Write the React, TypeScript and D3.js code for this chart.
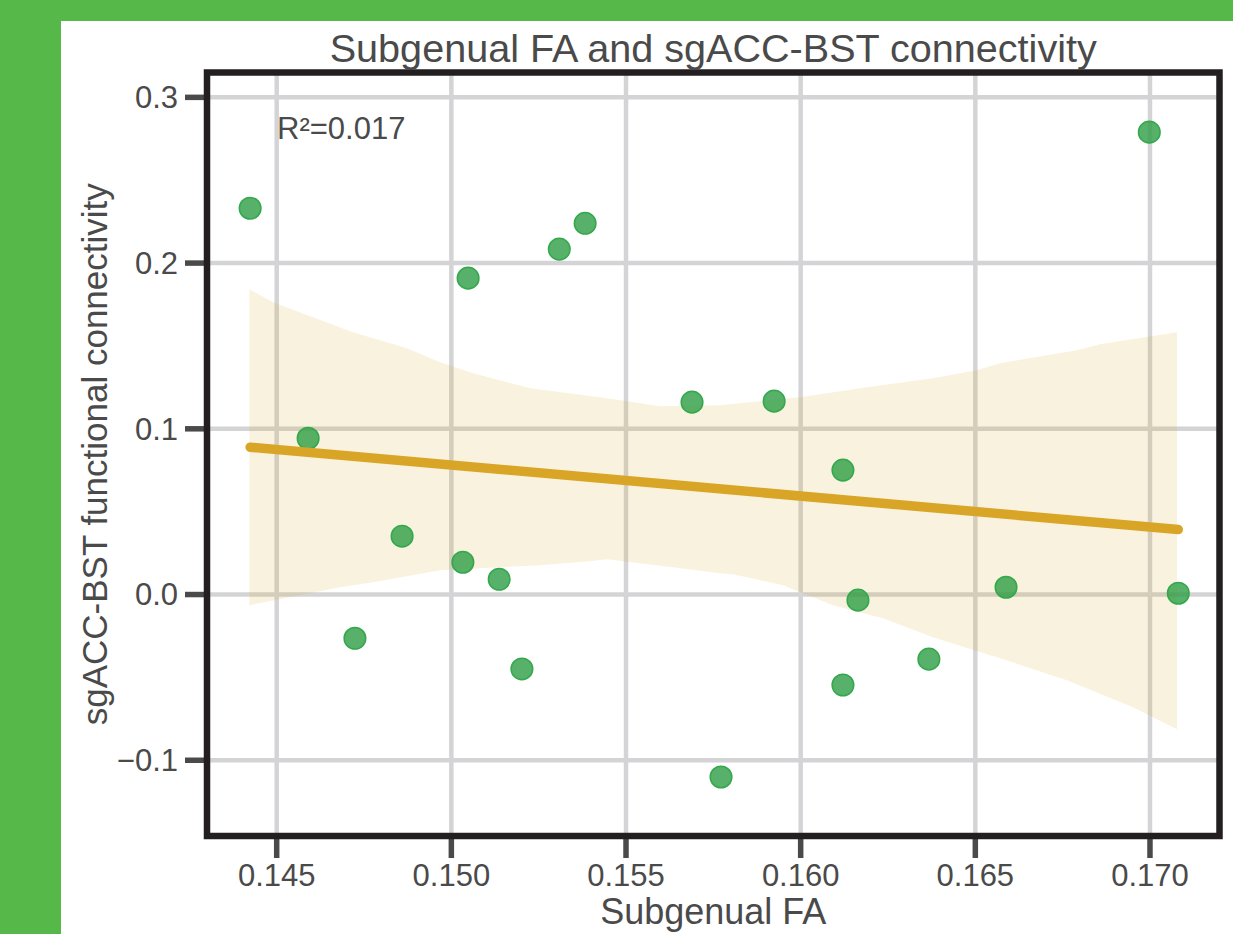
import React from "react";
import * as d3 from "d3";

// ---- data ----
const subgenualFA = [
  0.14424, 0.1459, 0.14724, 0.14859, 0.15033, 0.15048, 0.15137, 0.15202, 0.15309, 0.15383,
  0.15689, 0.15772, 0.15924, 0.16121, 0.16121, 0.16164, 0.16367, 0.16588, 0.16998, 0.17081,
];
const connectivity = [
  0.2331, 0.0943, -0.0264, 0.0352, 0.0195, 0.1909, 0.0092, -0.0449, 0.2084, 0.224,
  0.1161, -0.1101, 0.1167, 0.0751, -0.0546, -0.0034, -0.039, 0.0044, 0.279, 0.0008,
];
// bootstrap confidence band edges
const ciUpperX = [
  0.144216, 0.144894, 0.147184, 0.14873, 0.149674, 0.150619, 0.152251, 0.154255, 0.155972,
  0.15769, 0.158835, 0.15998, 0.161898, 0.163787, 0.165047, 0.165705, 0.167909, 0.168568, 0.170772,
];
const ciUpperY = [
  0.1842, 0.1764, 0.1583, 0.1486, 0.1402, 0.1336, 0.1245, 0.1191, 0.1136,
  0.1142, 0.1167, 0.1191, 0.1251, 0.1305, 0.1354, 0.1396, 0.1474, 0.1511, 0.1583,
];
const ciLowerX = [
  0.144216, 0.146812, 0.147757, 0.149674, 0.152537, 0.153968, 0.154455, 0.156344, 0.15769,
  0.158062, 0.159493, 0.160924, 0.162356, 0.163787, 0.165705, 0.167623, 0.169512, 0.170772,
];
const ciLowerY = [
  -0.0065, 0.0044, 0.0074, 0.0147, 0.0177, 0.0201, 0.0213, 0.0165, 0.0129,
  0.0123, 0.0056, -0.0065, -0.0143, -0.0258, -0.0384, -0.0517, -0.068, -0.0813,
];
const xTicks = [0.145, 0.15, 0.155, 0.16, 0.165, 0.17];
const yTicks = [-0.1, 0.0, 0.1, 0.2, 0.3];
const title = "Subgenual FA and sgACC-BST connectivity";
const xLabel = "Subgenual FA";
const yLabel = "sgACC-BST functional connectivity";

const W = 1233;
const H = 934;
const L = 207, R = 1219.5, T = 72.5, B = 836;
const textColor = "#4a4a4a";
const font = "'Liberation Sans', Arial, Helvetica, sans-serif";

export default function App() {
  const x = d3.scaleLinear().domain([0.143005, 0.17199]).range([L, R]);
  const y = d3.scaleLinear().domain([-0.1457, 0.315]).range([B, T]);

  // linear regression
  const n = subgenualFA.length;
  const mx = d3.mean(subgenualFA) as number;
  const my = d3.mean(connectivity) as number;
  let sxy = 0, sxx = 0, syy = 0;
  for (let i = 0; i < n; i++) {
    const dx = subgenualFA[i] - mx, dy = connectivity[i] - my;
    sxy += dx * dy; sxx += dx * dx; syy += dy * dy;
  }
  const slope = sxy / sxx;
  const icpt = my - slope * mx;
  const r2 = (sxy * sxy) / (sxx * syy);
  const xmin = d3.min(subgenualFA) as number;
  const xmax = d3.max(subgenualFA) as number;
  const line = d3.line<number>().x((v) => x(v)).y((v) => y(icpt + slope * v));

  const bandPts: [number, number][] = [
    ...ciUpperX.map((v, i) => [x(v), y(ciUpperY[i])] as [number, number]),
    ...ciLowerX.map((v, i) => [x(v), y(ciLowerY[i])] as [number, number]).reverse(),
  ];
  const bandPath = d3.line()(bandPts) + "Z";

  const fmtY = (v: number) => (v < 0 ? "\u2212" : "") + Math.abs(v).toFixed(1);

  return (
    <svg width={W} height={H} style={{ position: "absolute", left: 0, top: 0 }} fontFamily={font}>
      <rect x={0} y={0} width={W} height={H} fill="#55b848" />
      <rect x={61} y={21} width={W - 61} height={H - 21} fill="#ffffff" />
      <defs>
        <clipPath id="plotclip">
          <rect x={L} y={T} width={R - L} height={B - T} />
        </clipPath>
      </defs>
      {/* grid */}
      <g clipPath="url(#plotclip)">
        {xTicks.map((t) => (
          <line key={"gx" + t} x1={x(t)} x2={x(t)} y1={T} y2={B} stroke="#d4d4d6" strokeWidth={4.5} />
        ))}
        {yTicks.map((t) => (
          <line key={"gy" + t} x1={L} x2={R} y1={y(t)} y2={y(t)} stroke="#d4d4d6" strokeWidth={4.5} />
        ))}
        <path d={bandPath} fill="#daa520" fillOpacity={0.15} />
        {subgenualFA.map((v, i) => (
          <circle key={"p" + i} cx={x(v)} cy={y(connectivity[i])} r={10.8} fill="#2e9e45" fillOpacity={0.8} stroke="#34a84c" strokeWidth={1.5} />
        ))}
        <path d={line([xmin, xmax]) as string} stroke="#d9a526" strokeWidth={9.5} strokeLinecap="round" fill="none" />
      </g>
      {/* ticks */}
      {yTicks.map((t) => (
        <g key={"ty" + t}>
          <line x1={185} x2={204} y1={y(t)} y2={y(t)} stroke="#4a4a4a" strokeWidth={5.5} />
          <text x={178} y={y(t)} dy="0.35em" textAnchor="end" fontSize={31} fill={textColor}>{fmtY(t)}</text>
        </g>
      ))}
      {xTicks.map((t) => (
        <g key={"tx" + t}>
          <line x1={x(t)} x2={x(t)} y1={839} y2={858} stroke="#4a4a4a" strokeWidth={5.5} />
          <text x={x(t)} y={886} textAnchor="middle" fontSize={31} fill={textColor}>{t.toFixed(3)}</text>
        </g>
      ))}
      {/* frame */}
      <rect x={L} y={T} width={R - L} height={B - T} fill="none" stroke="#231f20" strokeWidth={6.5} />
      <text x={277} y={139} fontSize={31} fill={textColor}>{"R\u00b2=" + r2.toFixed(3)}</text>
      <text x={(L + R) / 2} y={62} textAnchor="middle" fontSize={39.6} fill={textColor}>{title}</text>
      <text x={(L + R) / 2} y={924} textAnchor="middle" fontSize={36} fill={textColor}>{xLabel}</text>
      <text transform={`translate(107,${(T + B) / 2}) rotate(-90)`} textAnchor="middle" fontSize={35} fill={textColor}>{yLabel}</text>
    </svg>
  );
}
